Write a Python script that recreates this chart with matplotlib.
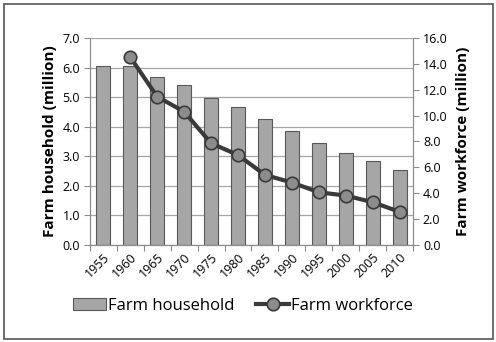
import numpy as np
import matplotlib.pyplot as plt
from matplotlib.patches import Rectangle

years = ['1955', '1960', '1965', '1970', '1975', '1980', '1985', '1990', '1995', '2000', '2005', '2010']
household = [6.05, 6.05, 5.67, 5.41, 4.98, 4.68, 4.26, 3.86, 3.44, 3.12, 2.84, 2.54]
workforce = [np.nan, 14.53, 11.46, 10.3, 7.86, 6.95, 5.41, 4.82, 4.07, 3.81, 3.3, 2.55]

plt.rcParams['font.family'] = ['Open Sans', 'DejaVu Sans']

fig = plt.figure(figsize=(4.96, 3.42), dpi=100)
ax = fig.add_axes([0.181, 0.284, 0.652, 0.605])
ax2 = ax.twinx()

x = np.arange(len(years))
bars = ax.bar(x, household, 0.53, color='#a6a6a6', edgecolor='#595959', linewidth=0.8,
              label='Farm household', zorder=2)
line, = ax2.plot(x, workforce, color='#3a3a3a', linewidth=3, marker='o', markersize=9,
                 markerfacecolor='#8c8c8c', markeredgecolor='#3a3a3a', markeredgewidth=1.2,
                 label='Farm workforce', zorder=3)

ax.set_xlim(-0.5, len(years) - 0.5)
ax.set_ylim(0, 7)
ax2.set_ylim(0, 16)
ax.set_yticks(np.arange(0, 7.1, 1.0))
ax.set_yticklabels([f'{v:.1f}' for v in np.arange(0, 7.1, 1.0)], fontsize=9)
ax2.set_yticks(np.arange(0, 16.1, 2.0))
ax2.set_yticklabels([f'{v:.1f}' for v in np.arange(0, 16.1, 2.0)], fontsize=9)

ax.yaxis.grid(True, color='#a6a6a6', linewidth=0.9, zorder=0)
ax.set_axisbelow(True)

# Excel style x ticks between categories
ax.set_xticks(np.arange(-0.5, len(years), 1.0))
ax.set_xticklabels([])
ax.set_xticks(x, minor=True)
ax.set_xticklabels(years, minor=True, rotation=45, ha='right', va='top',
                   rotation_mode='anchor', fontsize=9)
ax.tick_params(axis='x', which='minor', length=0, pad=4)
ax.tick_params(axis='x', which='major', length=4, color='#8c8c8c', direction='out')
ax.tick_params(axis='y', length=4, color='#8c8c8c', pad=3)
ax2.tick_params(axis='y', length=4, color='#8c8c8c', pad=3)

for a in (ax, ax2):
    a.spines['top'].set_visible(False)
    for s in ('left', 'right', 'bottom'):
        a.spines[s].set_color('#8c8c8c')

ax.set_ylabel('Farm household (million)', fontsize=11, fontweight='bold', labelpad=4)
ax2.set_ylabel('Farm workforce (million)', fontsize=11, fontweight='bold', labelpad=6)

fig.legend([bars, line], ['Farm household', 'Farm workforce'], loc='center',
           bbox_to_anchor=(0.49, 0.105), ncol=2, frameon=False, fontsize=12,
           handlelength=2.0, handletextpad=0.1, columnspacing=1.3)

fig.patches.append(Rectangle((0.008, 0.01), 0.986, 0.978, transform=fig.transFigure,
                             fill=False, edgecolor='#555555', linewidth=1.2))

fig.savefig('out.png', dpi=100)
